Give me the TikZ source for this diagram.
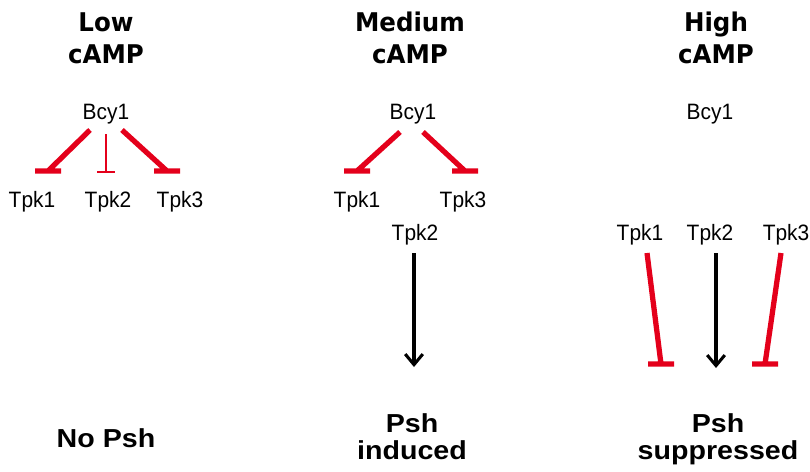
\documentclass[tikz,border=0pt]{standalone}
\usepackage{fontspec}
\usepackage{xcolor}
\usepackage{tikz}
\usetikzlibrary{arrows.meta}

\newfontfamily\protfont[FakeStretch=0.94]{Liberation Sans}
\newfontfamily\headfont[FakeStretch=0.95]{DejaVu Sans}
\newfontfamily\resfont[FakeStretch=1.1]{Liberation Sans}
\definecolor{inhred}{RGB}{228,0,27}

\tikzset{
  prot/.style={font=\protfont\fontsize{19}{21}\selectfont, inner sep=0pt, anchor=base},
  head/.style={font=\headfont\bfseries\fontsize{22}{27.3}\selectfont, align=center, inner sep=0pt, anchor=base},
  res/.style={font=\resfont\bfseries\fontsize{22.2}{23}\selectfont, align=center, inner sep=0pt, anchor=base},
  inhib/.style={draw=inhred, line width=4.5pt},
  weakinhib/.style={draw=inhred, line width=1.7pt},
  act/.style={draw=black, line width=2.6pt, -{Straight Barb[length=9pt,width=15pt]}}
}

\begin{document}
\begin{tikzpicture}[x=0.03cm, y=-0.03cm]
			\useasboundingbox (0,0) rectangle (810,471);
			% column titles
			\node [head] (lowT) at (106,63) {Low\\cAMP};
			\node [head] (medT) at (410,63) {Medium\\cAMP};
			\node [head] (highT) at (716,63) {High\\cAMP};
			% low cAMP
			\node [prot] (bcyL) at (106,119) {Bcy1};
			\node [prot] (tpkL1) at (32,207) {Tpk1};
			\node [prot] (tpkL2) at (108,207) {Tpk2};
			\node [prot] (tpkL3) at (180,207) {Tpk3};
			\node [res] (resL) at (106,447) {No Psh};
			\draw [inhib] ([shift={(-16,11)}]bcyL.base) -- ([shift={(16,-36)}]tpkL1.base) +(-13,0) -- +(13,0);
			\draw [weakinhib] ([shift={(0,15)}]bcyL.base) -- ([shift={(-2,-35)}]tpkL2.base) +(-9,0) -- +(9,0);
			\draw [inhib] ([shift={(16,11)}]bcyL.base) -- ([shift={(-13,-36)}]tpkL3.base) +(-13,0) -- +(13,0);
			% medium cAMP
			\node [prot] (bcyM) at (413,119) {Bcy1};
			\node [prot] (tpkM1) at (357,207) {Tpk1};
			\node [prot] (tpkM3) at (463,207) {Tpk3};
			\node [prot] (tpkM2) at (415,240) {Tpk2};
			\node [res] (resM) at (412,459) {Psh\\induced};
			\draw [inhib] ([shift={(-13,13)}]bcyM.base) -- ([shift={(0,-36)}]tpkM1.base) +(-13,0) -- +(13,0);
			\draw [inhib] ([shift={(10,13)}]bcyM.base) -- ([shift={(2,-36)}]tpkM3.base) +(-13,0) -- +(13,0);
			\draw [act] ([shift={(-1,13)}]tpkM2.base) -- ([shift={(2,-92)}]resM.base);
			% high cAMP
			\node [prot] (bcyH) at (710,119) {Bcy1};
			\node [prot] (tpkH1) at (640,240) {Tpk1};
			\node [prot] (tpkH2) at (710,240) {Tpk2};
			\node [prot] (tpkH3) at (786,240) {Tpk3};
			\node [res] (resH) at (718,459) {Psh\\suppressed};
			\draw [inhib] ([shift={(7,13)}]tpkH1.base) -- ([shift={(-57,-95)}]resH.base) +(-13,0) -- +(13,0);
			\draw [act] ([shift={(6,13)}]tpkH2.base) -- ([shift={(-2,-91)}]resH.base);
			\draw [inhib] ([shift={(-5,13)}]tpkH3.base) -- ([shift={(47,-95)}]resH.base) +(-13,0) -- +(13,0);
\end{tikzpicture}
\end{document}
